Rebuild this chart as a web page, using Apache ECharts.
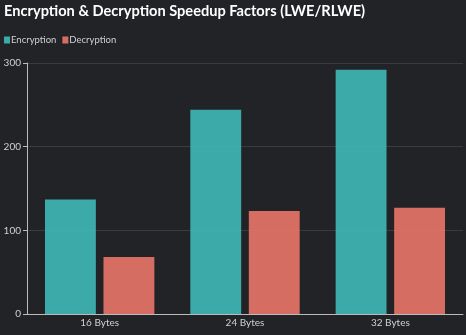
<!DOCTYPE html>
<html><head><meta charset="utf-8">
<script src="https://cdn.jsdelivr.net/npm/echarts@6/dist/echarts.min.js"></script>
<style>html,body{margin:0;padding:0;background:#222327;}#c{width:466px;height:335px;}</style>
</head><body><div id="c"></div>
<script>
const categories = ['16 Bytes', '24 Bytes', '32 Bytes'];
const encryption = [137, 244, 292];
const decryption = [68, 123, 127];
const yTicks = [0, 100, 200, 300];

const chart = echarts.init(document.getElementById('c'));
const font = 'Lato, "Noto Sans", sans-serif';
chart.setOption({
  backgroundColor: '#222327',
  animation: false,
  title: {
    text: 'Encryption & Decryption Speedup Factors (LWE/RLWE)',
    left: 4, top: 4, padding: 0,
    textStyle: { color: '#ffffff', fontSize: 14.6, fontWeight: 'bold', fontFamily: font }
  },
  legend: {
    left: 4, top: 35, padding: 0,
    itemWidth: 6, itemHeight: 7, itemGap: 6,
    icon: 'rect',
    textStyle: { color: '#d0d0d0', fontSize: 9.5, fontFamily: font, padding: [0,0,0,-4] },
    data: ['Encryption', 'Decryption']
  },
  grid: { left: 27, right: 3, top: 63, bottom: 21, containLabel: false },
  xAxis: {
    type: 'category', data: categories,
    axisLine: { lineStyle: { color: '#bbbbbb' } },
    axisTick: { alignWithLabel: true, length: 4, lineStyle: { color: '#bbbbbb' } },
    axisLabel: { color: '#d0d0d0', fontSize: 10, fontFamily: font, margin: 4 },
  },
  yAxis: {
    type: 'value', min: yTicks[0], max: yTicks[yTicks.length-1], interval: 100,
    axisLine: { show: true, lineStyle: { color: '#bbbbbb' } },
    axisTick: { show: true, length: 4, lineStyle: { color: '#bbbbbb' } },
    axisLabel: { color: '#d0d0d0', fontSize: 10, fontFamily: font, margin: 6 },
    splitLine: { lineStyle: { color: '#3a3b40' } }
  },
  series: [
    { name: 'Encryption', type: 'bar', data: encryption, barWidth: '35%', barGap: '15%',
      itemStyle: { color: '#41c2c1', opacity: 0.85 } },
    { name: 'Decryption', type: 'bar', data: decryption, barWidth: '35%', barGap: '15%',
      itemStyle: { color: '#f67a6f', opacity: 0.85 } }
  ]
});
</script></body></html>
